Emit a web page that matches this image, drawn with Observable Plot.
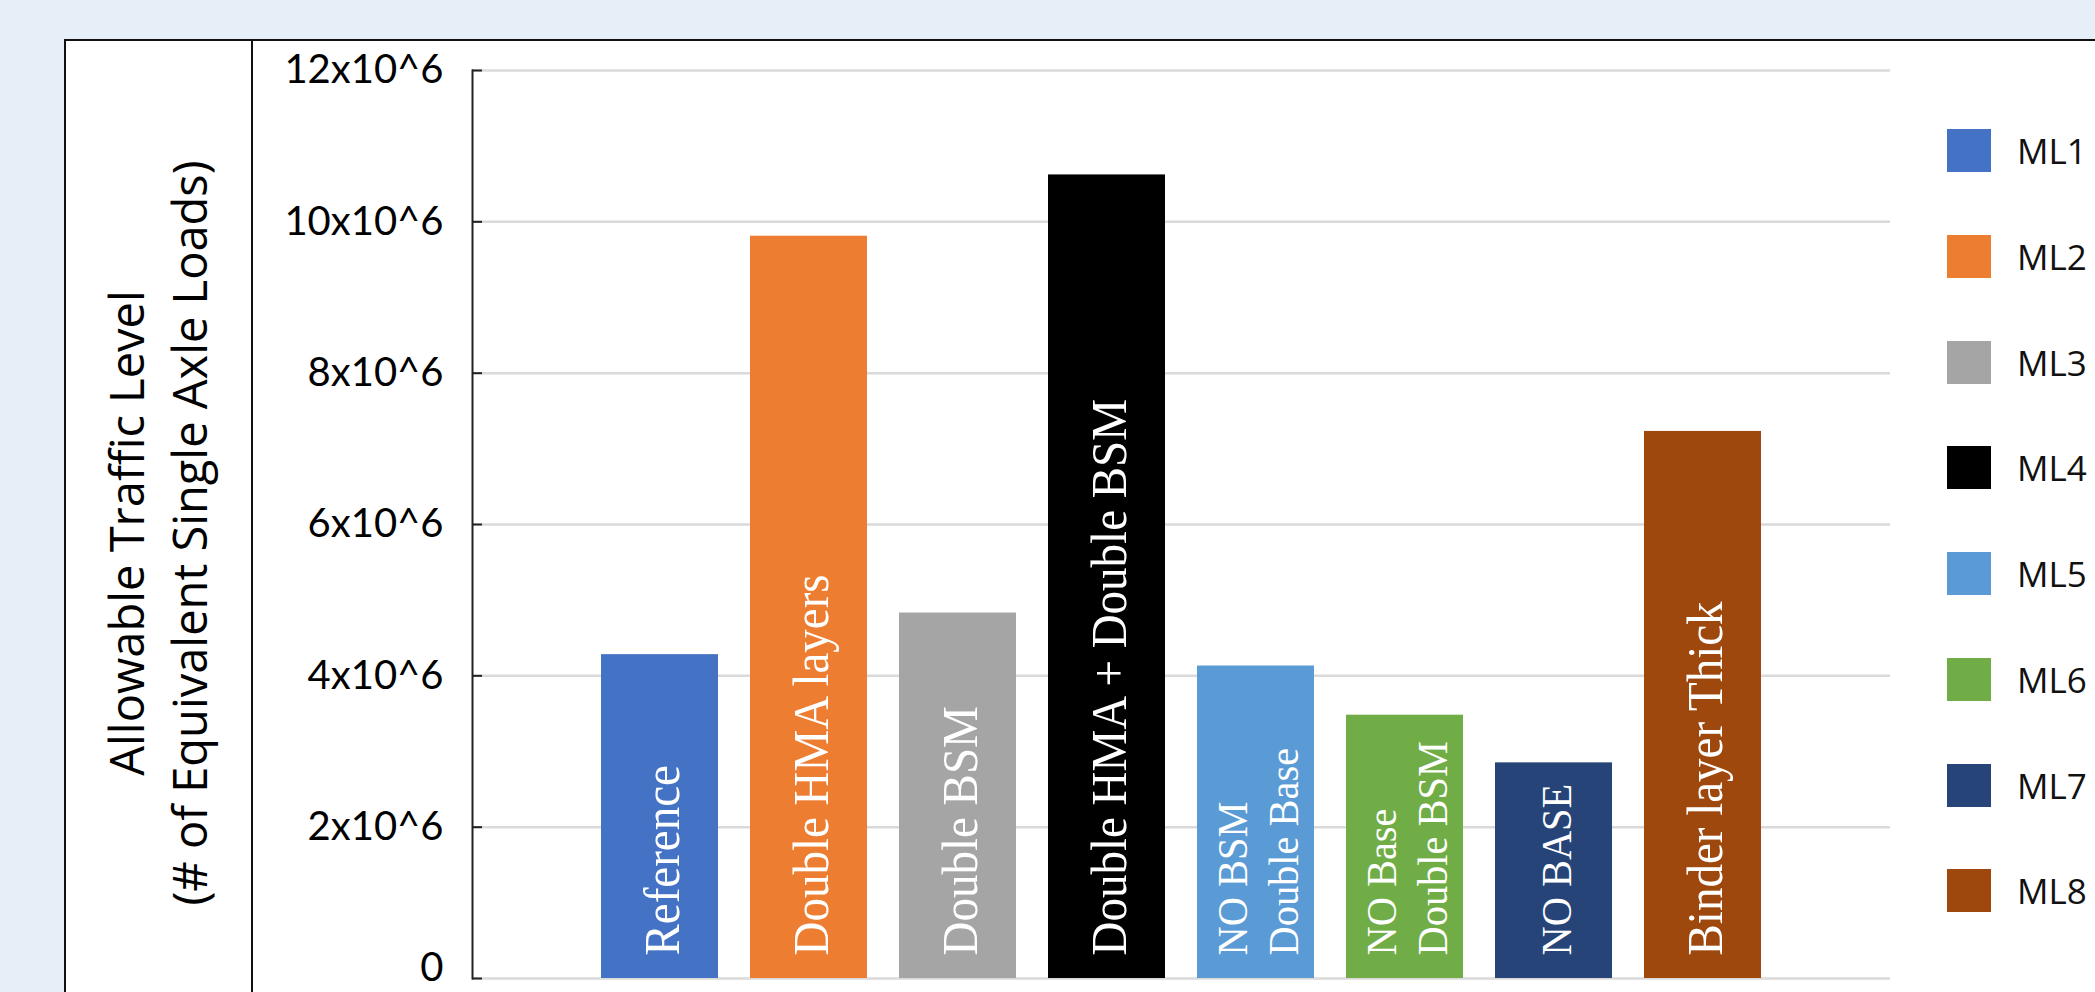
<!DOCTYPE html>
<html>
<head>
<meta charset="utf-8">
<script src="https://cdn.jsdelivr.net/npm/d3@7"></script>
<script src="https://cdn.jsdelivr.net/npm/@observablehq/plot@0.6"></script>
<style>
  html, body { margin: 0; padding: 0; width: 2095px; height: 992px; overflow: hidden; background: #e6eef7; }
  #box { position: absolute; left: 64px; top: 39px; width: 2100px; height: 1000px; background: #fff; border: 2px solid #111; box-sizing: border-box; }
  #divider { position: absolute; left: 251px; top: 39px; width: 2px; height: 1000px; background: #111; }
  #chart { position: absolute; left: 0; top: 0; }
  #ytitle { position: absolute; left: -291.7px; top: 470px; width: 900px; height: 126px;
            transform-origin: 50% 50%; transform: rotate(-90deg);
            font-family: "Open Sans", sans-serif; font-size: 47px; line-height: 63px;
            text-align: center; white-space: pre; color: #000; }
  .lg-item { position: absolute; left: 1947px; height: 44px; display: flex; align-items: center; }
  .lg-sw { width: 44px; height: 43px; }
  .lg-tx { margin-left: 26px; font-family: "Open Sans", sans-serif; font-size: 35px; line-height: 1; color: #111; }
</style>
</head>
<body>
<div id="box"></div>
<div id="divider"></div>
<div id="chart"></div>
<div id="ytitle"></div>
<div id="legend"></div>
<script>
// ---- data ----
const series = ["ML1", "ML2", "ML3", "ML4", "ML5", "ML6", "ML7", "ML8"];
const barLabels = [
  "Reference",
  "Double HMA layers",
  "Double BSM",
  "Double HMA + Double BSM",
  "NO BSM\nDouble Base",
  "NO Base\nDouble BSM",
  "NO BASE",
  "Binder layer Thick"
];
const values = [4.28e6, 9.81e6, 4.83e6, 10.62e6, 4.13e6, 3.48e6, 2.85e6, 7.23e6];
const colors = ["#4472C4", "#ED7D31", "#A5A5A5", "#000000", "#5B9BD5", "#70AD47", "#264478", "#9E480E"];
const yTicks = [0, 2e6, 4e6, 6e6, 8e6, 10e6, 12e6];
const yTickLabels = ["0", "2x10^6", "4x10^6", "6x10^6", "8x10^6", "10x10^6", "12x10^6"];
const yTitleLines = ["Allowable Traffic Level", "(# of Equivalent Single Axle Loads)"];

const data = series.map((s, i) => ({series: s, label: barLabels[i], value: values[i]}));

// ---- styling (kept apart from data) ----
const smallLabelSeries = ["ML5", "ML6", "ML7"];
const W = 2095, H = 992;
const mL = 472, mR = 205, mT = 70, mB = 14;
const plotW = W - mL - mR;
const tickFmt = (d) => yTickLabels[yTicks.indexOf(d)];
const tickFont = {fontFamily: "Lato, 'Open Sans', sans-serif", fontSize: 40, fill: "#000"};

const chart = Plot.plot({
  width: W,
  height: H,
  marginLeft: mL,
  marginRight: mR,
  marginTop: mT,
  marginBottom: mB,
  style: {background: "transparent", overflow: "visible", color: "#000"},
  x: {type: "band", domain: series, paddingInner: 0.216, paddingOuter: 0.858, axis: null},
  y: {domain: [0, 12e6], axis: null},
  color: {domain: series, range: colors},
  marks: [
    Plot.gridY(yTicks, {stroke: "#dadada", strokeOpacity: 1, strokeWidth: 2.5}),
    Plot.barY(data, {x: "series", y: "value", fill: "series"}),
    Plot.text(data, {
      x: "series", y: () => 0, text: "label",
      rotate: -90, textAnchor: "start", lineAnchor: "middle", lineHeight: 1.2,
      dy: -23, fill: "#fff",
      fontFamily: "'Liberation Serif', 'Times New Roman', serif",
      fontSize: (d) => smallLabelSeries.includes(d.series) ? 43 : 50
    }),
    Plot.frame({anchor: "left", stroke: "#222", strokeWidth: 2}),
    Plot.ruleY(yTicks, {stroke: "#222", strokeWidth: 2, insetRight: plotW - 10}),
    Plot.axisY(yTicks.filter((d) => d > 0), {
      anchor: "left", tickSize: 0, tickPadding: 29, label: null, tickFormat: tickFmt, ...tickFont
    }),
    Plot.axisY([0], {
      anchor: "left", tickSize: 0, tickPadding: 29, label: null, tickFormat: tickFmt, dy: -10, ...tickFont
    })
  ]
});

// condense the serif bar labels slightly along their reading direction
chart.querySelectorAll('g[aria-label="text"] text').forEach((t) => {
  const tr = t.getAttribute("transform") || "";
  t.setAttribute("transform", tr + " scale(0.94,1)");
});
document.getElementById("chart").appendChild(chart);

// y title
document.getElementById("ytitle").textContent = yTitleLines.join("\n");

// legend
const legend = document.getElementById("legend");
series.forEach((s, i) => {
  const item = document.createElement("div");
  item.className = "lg-item";
  item.style.top = (150.8 + i * 105.7 - 22) + "px";
  const sw = document.createElement("div");
  sw.className = "lg-sw";
  sw.style.background = colors[i];
  const tx = document.createElement("span");
  tx.className = "lg-tx";
  tx.textContent = s;
  item.appendChild(sw);
  item.appendChild(tx);
  legend.appendChild(item);
});
</script>
</body>
</html>
